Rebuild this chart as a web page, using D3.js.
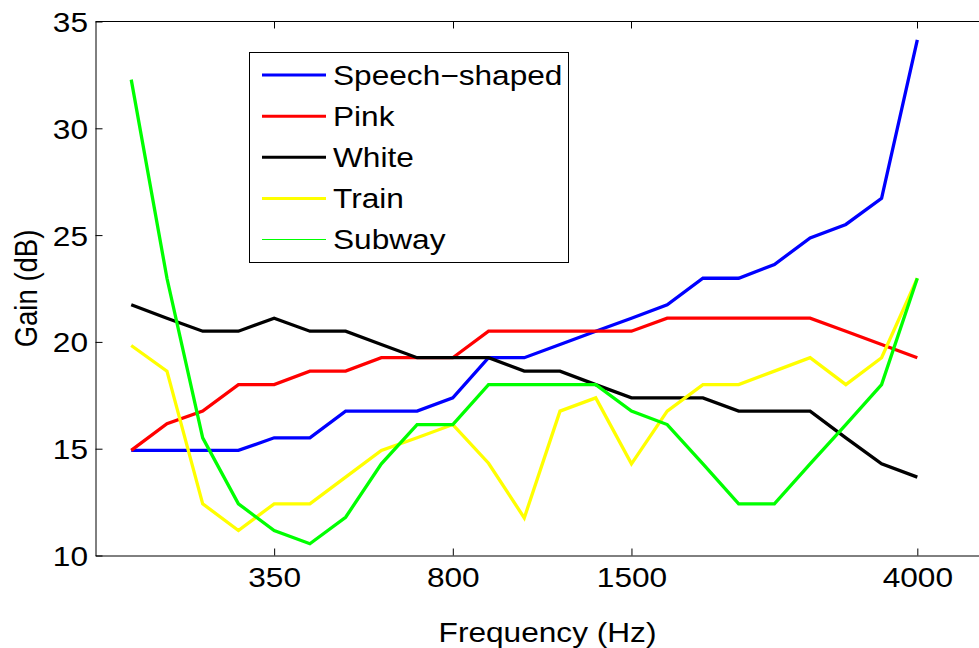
<!DOCTYPE html>
<html>
<head>
<meta charset="utf-8">
<script src="https://cdn.jsdelivr.net/npm/d3@7"></script>
<style>
  html, body { margin: 0; padding: 0; background: #fff; }
  svg { display: block; }
  text { font-family: "Liberation Sans", Arial, Helvetica, sans-serif; fill: #000; }
</style>
</head>
<body>
<svg id="chart" width="979" height="648"></svg>
<script>
// Frequency bands (band number along the x axis)
const bands = [1, 2, 3, 4, 5, 6, 7, 8, 9, 10, 11, 12, 13, 14, 15, 16, 17, 18, 19, 20, 21, 22, 23];

// Labelled bands and their centre frequencies
const tickBands = [5, 10, 15, 23];
const tickLabels = ["350", "800", "1500", "4000"];

const yTicks = [10, 15, 20, 25, 30, 35];

// Gain per band (dB) for each noise type
const speechShaped = [14.92, 14.92, 14.92, 14.92, 15.51, 15.51, 16.76, 16.76, 16.76, 17.38, 19.26, 19.26,
                      19.88, 20.50, 21.11, 21.74, 22.98, 22.98, 23.62, 24.87, 25.50, 26.72, 34.14];
const pink         = [14.92, 16.17, 16.76, 18.00, 18.00, 18.63, 18.63, 19.26, 19.26, 19.26, 20.50, 20.50,
                      20.50, 20.50, 20.50, 21.11, 21.11, 21.11, 21.11, 21.11, 20.50, 19.88, 19.26];
const white        = [21.74, 21.11, 20.50, 20.50, 21.11, 20.50, 20.50, 19.88, 19.26, 19.26, 19.26, 18.63,
                      18.63, 18.00, 17.38, 17.38, 17.38, 16.76, 16.76, 16.76, 15.51, 14.29, 13.67];
const train        = [19.83, 18.63, 12.42, 11.17, 12.42, 12.42, 13.67, 14.92, 15.51, 16.13, 14.32, 11.76,
                      16.76, 17.38, 14.29, 16.76, 18.00, 18.00, 18.63, 19.26, 18.00, 19.26, 22.98];
const subway       = [32.28, 22.98, 15.51, 12.42, 11.17, 10.55, 11.79, 14.29, 16.13, 16.13, 18.00, 18.00,
                      18.00, 18.00, 16.76, 16.13, 14.29, 12.42, 12.42, 14.29, 16.13, 18.00, 22.98];

const seriesNames  = ["Speech\u2212shaped", "Pink", "White", "Train", "Subway"];
const seriesValues = [speechShaped, pink, white, train, subway];
const seriesColors = ["#0000ff", "#ff0000", "#000000", "#ffff00", "#00ff00"];
const legendWidths = [3, 3, 3, 3, 1];

// Layout
const FONT_SIZE = 27.5;
const STRETCH = 1.15;          // wide lettering of the figure's text
const plot = { left: 95.5, right: 999.5, top: 21.5, bottom: 555.5 };

const svg = d3.select("#chart");

const x = d3.scaleLinear().domain([0, 25.3]).range([plot.left, plot.right]);
const y = d3.scaleLinear().domain([10, 35]).range([plot.bottom, plot.top]);

// Frame: top edge with inward ticks
const frame = svg.append("g");
frame.append("line")
  .attr("x1", plot.left).attr("x2", plot.right)
  .attr("y1", plot.top).attr("y2", plot.top)
  .attr("stroke", "#000").attr("stroke-width", 1);
frame.selectAll("line.topTick").data(tickBands).join("line")
  .attr("class", "topTick")
  .attr("x1", d => Math.round(x(d)) + 0.5).attr("x2", d => Math.round(x(d)) + 0.5)
  .attr("y1", plot.top).attr("y2", plot.top + 7)
  .attr("stroke", "#000").attr("stroke-width", 1);

// Bottom axis
const xAxis = svg.append("g")
  .attr("transform", `translate(0,${plot.bottom})`)
  .call(d3.axisBottom(x)
    .tickValues(tickBands)
    .tickFormat((d, i) => tickLabels[i])
    .tickSizeInner(-7)
    .tickSizeOuter(0)
    .tickPadding(12));

// Left axis
const yAxis = svg.append("g")
  .attr("transform", `translate(${plot.left},0)`)
  .call(d3.axisLeft(y)
    .tickValues(yTicks)
    .tickFormat(d3.format("d"))
    .tickSizeInner(-7)
    .tickSizeOuter(0)
    .tickPadding(7));

[xAxis, yAxis].forEach(ax => {
  ax.attr("font-family", null).attr("font-size", null);
  ax.select(".domain").attr("stroke", "#000").attr("stroke-width", 1);
  ax.selectAll(".tick line").attr("stroke", "#000").attr("stroke-width", 1);
  ax.selectAll(".tick text")
    .style("font-size", FONT_SIZE + "px")
    .attr("fill", "#000");
});
xAxis.selectAll(".tick text").attr("transform", `scale(${STRETCH},1)`);
yAxis.selectAll(".tick text")
  .attr("x", -7.5 / STRETCH)
  .attr("dy", "0.36em")
  .attr("transform", `scale(${STRETCH},1)`);

// Axis titles
svg.append("text")
  .attr("text-anchor", "middle")
  .attr("transform", `translate(${(plot.left + plot.right) / 2},642) scale(${STRETCH},1)`)
  .style("font-size", FONT_SIZE + "px")
  .text("Frequency (Hz)");

svg.append("text")
  .attr("text-anchor", "middle")
  .attr("transform", `translate(37,${(plot.top + plot.bottom) / 2}) rotate(-90) scale(1,${STRETCH})`)
  .style("font-size", FONT_SIZE + "px")
  .text("Gain (dB)");

// Series lines
const line = d3.line()
  .x((d, i) => x(bands[i]))
  .y(d => y(d));

svg.append("g").selectAll("path").data(seriesValues).join("path")
  .attr("d", d => line(d))
  .attr("fill", "none")
  .attr("stroke", (d, i) => seriesColors[i])
  .attr("stroke-width", 3.3)
  .attr("stroke-linejoin", "miter")
  .attr("stroke-miterlimit", 4);

// Legend
const legend = svg.append("g");
const lgBox = { x: 249.5, y: 52.5, w: 319, h: 210 };
const rowY = d3.scaleLinear().domain([0, 4]).range([75, 239.5]);

legend.append("rect")
  .attr("x", lgBox.x).attr("y", lgBox.y)
  .attr("width", lgBox.w).attr("height", lgBox.h)
  .attr("fill", "#fff").attr("stroke", "#000").attr("stroke-width", 1);

const rows = legend.selectAll("g.row").data(seriesNames).join("g")
  .attr("class", "row")
  .attr("transform", (d, i) => `translate(0,${rowY(i)})`);

rows.append("line")
  .attr("x1", 262).attr("x2", 326)
  .attr("y1", 0).attr("y2", 0)
  .attr("stroke", (d, i) => seriesColors[i])
  .attr("stroke-width", (d, i) => legendWidths[i]);

rows.append("text")
  .attr("transform", `translate(333,0) scale(${STRETCH},1)`)
  .attr("dy", "0.36em")
  .style("font-size", FONT_SIZE + "px")
  .text(d => d);
</script>
</body>
</html>
